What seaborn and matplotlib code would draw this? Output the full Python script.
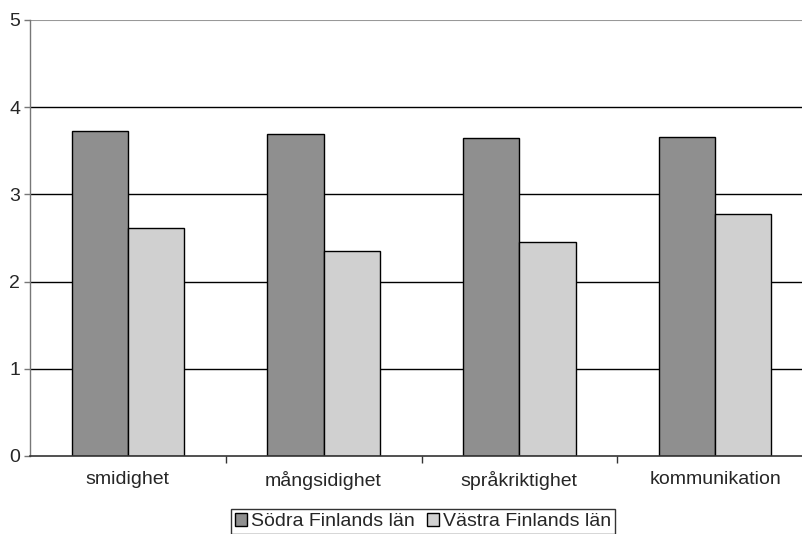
import pandas as pd
import seaborn as sns
import matplotlib.pyplot as plt
from matplotlib.ticker import FixedLocator

# Data
categories = ['smidighet', 'mångsidighet', 'språkriktighet', 'kommunikation']
series_names = ['Södra Finlands län', 'Västra Finlands län']
sodra = [3.73, 3.69, 3.65, 3.66]
vastra = [2.61, 2.35, 2.45, 2.77]
y_ticks = [0, 1, 2, 3, 4, 5]

colors = ['#8f8f8f', '#d0d0d0']

df = pd.DataFrame({
    'kategori': categories * 2,
    'serie': [series_names[0]] * len(categories) + [series_names[1]] * len(categories),
    'varde': sodra + vastra,
})

sns.set_theme(style='white')
plt.rcParams['font.family'] = ['Liberation Sans', 'DejaVu Sans']

fig = plt.figure(figsize=(8.02, 5.34), dpi=100)
# plot area runs a little past the right edge, as in the original
ax = fig.add_axes([30 / 802, 78 / 534, 783 / 802, 436 / 534])

sns.barplot(data=df, x='kategori', y='varde', hue='serie', palette=colors,
            width=0.575, gap=0, edgecolor='black', linewidth=1,
            saturation=1, ax=ax, legend=True)

ax.set_ylim(0, 5)
ax.set_xlim(-0.5, 3.5)
ax.set_yticks(y_ticks)
ax.set_xlabel('')
ax.set_ylabel('')

# Horizontal gridlines
for y in y_ticks[1:-1]:
    ax.axhline(y, color='black', linewidth=1, zorder=0)

# Spines
for side in ['top', 'right']:
    ax.spines[side].set_visible(False)
ax.axhline(5, color='#999999', linewidth=1.5, zorder=0)
ax.spines['left'].set_color('#777777')
ax.spines['left'].set_linewidth(1)
ax.spines['bottom'].set_color('#333333')
ax.spines['bottom'].set_linewidth(1.2)

# Ticks
ax.tick_params(axis='y', which='major', left=True, length=4, width=1,
               color='#777777', labelsize=14, pad=3)
ax.tick_params(axis='x', which='major', bottom=False, labelsize=14, pad=5)
ax.xaxis.set_minor_locator(FixedLocator([0.5, 1.5, 2.5]))
ax.tick_params(axis='x', which='minor', bottom=True, length=5, width=1,
               color='#333333')

# Legend
handles, labels = ax.get_legend_handles_labels()
ax.get_legend().remove()
leg = fig.legend(handles, labels, loc='upper center', ncol=2,
                 bbox_to_anchor=(423 / 802, 1 - 509 / 534),
                 frameon=True, fancybox=False, edgecolor='black',
                 fontsize=14, handlelength=0.65, handleheight=0.65,
                 handletextpad=0.2, columnspacing=0.6, borderpad=0.2,
                 borderaxespad=0)
leg.get_frame().set_linewidth(1)

fig.savefig('out.png', dpi=100)
